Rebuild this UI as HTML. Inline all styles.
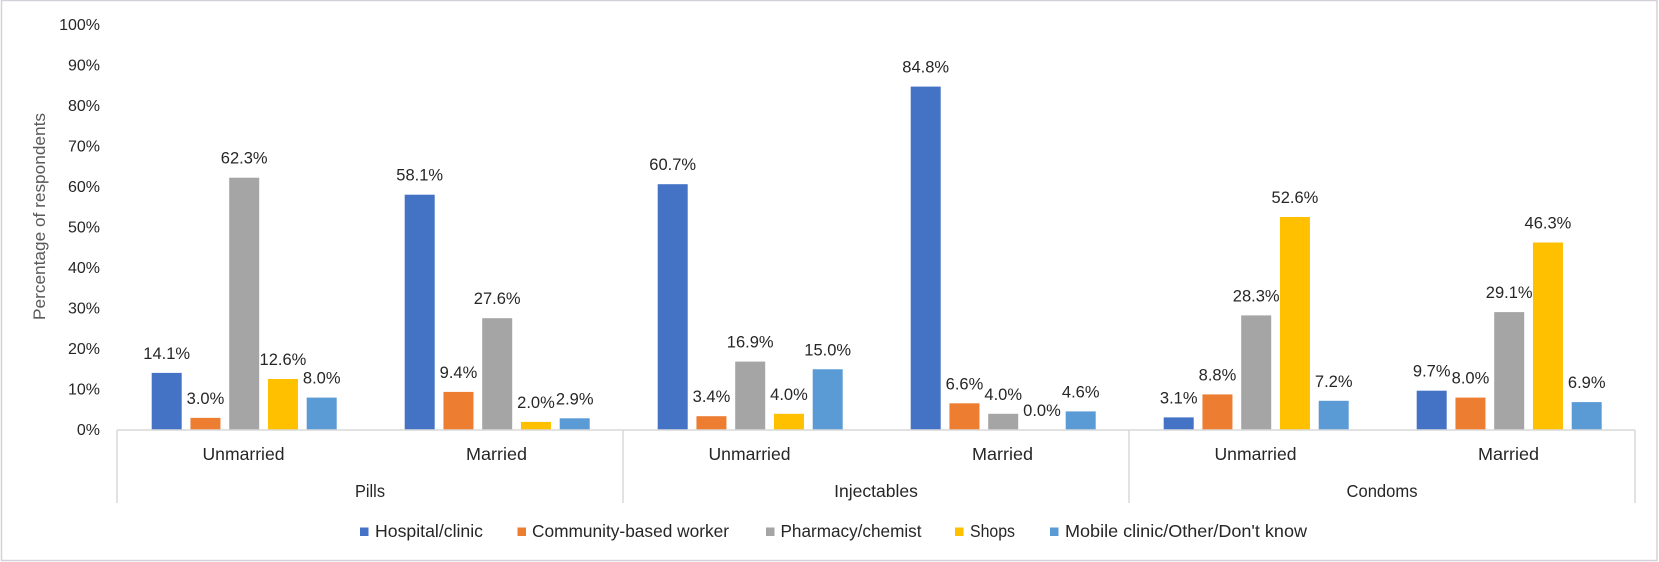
<!DOCTYPE html>
<html>
<head>
<meta charset="utf-8">
<style>
html,body{margin:0;padding:0;background:#fff;}
svg{display:block;}
text{font-family:"Liberation Sans",Arial,sans-serif;}
</style>
</head>
<body>
<svg width="1659" height="562" viewBox="0 0 1659 562" xmlns="http://www.w3.org/2000/svg">
<rect x="0" y="0" width="1659" height="562" fill="#ffffff"/>
<!-- outer border -->
<rect x="1.5" y="0.5" width="1655.5" height="560" fill="none" stroke="#d6d0da" stroke-width="1.5"/>

<!-- y-axis title -->
<text transform="translate(45,216.5) rotate(-90)" text-anchor="middle" font-size="17" fill="#595959" textLength="207" lengthAdjust="spacingAndGlyphs">Percentage of respondents</text>

<!-- tick labels -->
<g font-size="16" fill="#262626" text-anchor="end">
<text x="100" y="435">0%</text>
<text x="100" y="394.5">10%</text>
<text x="100" y="354">20%</text>
<text x="100" y="313.5">30%</text>
<text x="100" y="273">40%</text>
<text x="100" y="232.5">50%</text>
<text x="100" y="192">60%</text>
<text x="100" y="151.5">70%</text>
<text x="100" y="111">80%</text>
<text x="100" y="70.5">90%</text>
<text x="100" y="30">100%</text>
</g>

<!-- bars -->
<g>
<!-- Pills Unmarried -->
<rect x="151.7" y="372.9" width="30" height="57.1" fill="#4472C4"/>
<rect x="190.45" y="417.85" width="30" height="12.15" fill="#ED7D31"/>
<rect x="229.2" y="177.7" width="30" height="252.3" fill="#A5A5A5"/>
<rect x="267.95" y="379.0" width="30" height="51.0" fill="#FFC000"/>
<rect x="306.7" y="397.6" width="30" height="32.4" fill="#5B9BD5"/>
<!-- Pills Married -->
<rect x="404.7" y="194.7" width="30" height="235.3" fill="#4472C4"/>
<rect x="443.45" y="391.9" width="30" height="38.1" fill="#ED7D31"/>
<rect x="482.2" y="318.2" width="30" height="111.8" fill="#A5A5A5"/>
<rect x="520.95" y="421.9" width="30" height="8.1" fill="#FFC000"/>
<rect x="559.7" y="418.3" width="30" height="11.7" fill="#5B9BD5"/>
<!-- Injectables Unmarried -->
<rect x="657.7" y="184.2" width="30" height="245.8" fill="#4472C4"/>
<rect x="696.45" y="416.2" width="30" height="13.8" fill="#ED7D31"/>
<rect x="735.2" y="361.6" width="30" height="68.4" fill="#A5A5A5"/>
<rect x="773.95" y="413.8" width="30" height="16.2" fill="#FFC000"/>
<rect x="812.7" y="369.25" width="30" height="60.75" fill="#5B9BD5"/>
<!-- Injectables Married -->
<rect x="910.7" y="86.6" width="30" height="343.4" fill="#4472C4"/>
<rect x="949.45" y="403.3" width="30" height="26.7" fill="#ED7D31"/>
<rect x="988.2" y="413.8" width="30" height="16.2" fill="#A5A5A5"/>
<rect x="1065.7" y="411.4" width="30" height="18.6" fill="#5B9BD5"/>
<!-- Condoms Unmarried -->
<rect x="1163.7" y="417.4" width="30" height="12.6" fill="#4472C4"/>
<rect x="1202.45" y="394.4" width="30" height="35.6" fill="#ED7D31"/>
<rect x="1241.2" y="315.4" width="30" height="114.6" fill="#A5A5A5"/>
<rect x="1279.95" y="217.0" width="30" height="213.0" fill="#FFC000"/>
<rect x="1318.7" y="400.8" width="30" height="29.2" fill="#5B9BD5"/>
<!-- Condoms Married -->
<rect x="1416.7" y="390.7" width="30" height="39.3" fill="#4472C4"/>
<rect x="1455.45" y="397.6" width="30" height="32.4" fill="#ED7D31"/>
<rect x="1494.2" y="312.1" width="30" height="117.9" fill="#A5A5A5"/>
<rect x="1532.95" y="242.5" width="30" height="187.5" fill="#FFC000"/>
<rect x="1571.7" y="402.1" width="30" height="27.9" fill="#5B9BD5"/>
</g>

<!-- axis and dividers -->
<g stroke="#d9d9d9" stroke-width="1.5" fill="none">
<line x1="117" y1="430" x2="1635" y2="430"/>
<line x1="117" y1="430" x2="117" y2="503"/>
<line x1="623" y1="430" x2="623" y2="503"/>
<line x1="1129" y1="430" x2="1129" y2="503"/>
<line x1="1635" y1="430" x2="1635" y2="503"/>
</g>

<!-- data labels -->
<g font-size="16.5" fill="#262626" text-anchor="middle">
<text x="166.7" y="358.9">14.1%</text>
<text x="205.45" y="403.85">3.0%</text>
<text x="244.2" y="163.7">62.3%</text>
<text x="282.95" y="365.0">12.6%</text>
<text x="321.7" y="383.6">8.0%</text>

<text x="419.7" y="180.7">58.1%</text>
<text x="458.45" y="377.9">9.4%</text>
<text x="497.2" y="304.2">27.6%</text>
<text x="535.95" y="407.9">2.0%</text>
<text x="574.7" y="404.3">2.9%</text>

<text x="672.7" y="170.2">60.7%</text>
<text x="711.45" y="402.2">3.4%</text>
<text x="750.2" y="347.6">16.9%</text>
<text x="788.95" y="399.8">4.0%</text>
<text x="827.7" y="355.25">15.0%</text>

<text x="925.7" y="72.6">84.8%</text>
<text x="964.45" y="389.3">6.6%</text>
<text x="1003.2" y="399.8">4.0%</text>
<text x="1041.95" y="416">0.0%</text>
<text x="1080.7" y="397.4">4.6%</text>

<text x="1178.7" y="403.4">3.1%</text>
<text x="1217.45" y="380.4">8.8%</text>
<text x="1256.2" y="301.4">28.3%</text>
<text x="1294.95" y="203.0">52.6%</text>
<text x="1333.7" y="386.8">7.2%</text>

<text x="1431.7" y="376.7">9.7%</text>
<text x="1470.45" y="383.6">8.0%</text>
<text x="1509.2" y="298.1">29.1%</text>
<text x="1547.95" y="228.5">46.3%</text>
<text x="1586.7" y="388.1">6.9%</text>
</g>

<!-- category labels -->
<g font-size="17.5" fill="#262626" text-anchor="middle">
<text x="243.5" y="460" textLength="82" lengthAdjust="spacingAndGlyphs">Unmarried</text>
<text x="496.5" y="460" textLength="61" lengthAdjust="spacingAndGlyphs">Married</text>
<text x="749.5" y="460" textLength="82" lengthAdjust="spacingAndGlyphs">Unmarried</text>
<text x="1002.5" y="460" textLength="61" lengthAdjust="spacingAndGlyphs">Married</text>
<text x="1255.5" y="460" textLength="82" lengthAdjust="spacingAndGlyphs">Unmarried</text>
<text x="1508.5" y="460" textLength="61" lengthAdjust="spacingAndGlyphs">Married</text>

<text x="370" y="497" textLength="30" lengthAdjust="spacingAndGlyphs">Pills</text>
<text x="876" y="497">Injectables</text>
<text x="1382" y="497" textLength="71" lengthAdjust="spacingAndGlyphs">Condoms</text>
</g>

<!-- legend -->
<g>
<rect x="360" y="527.5" width="8.5" height="8.5" fill="#4472C4"/>
<rect x="517.5" y="527.5" width="8.5" height="8.5" fill="#ED7D31"/>
<rect x="766" y="527.5" width="8.5" height="8.5" fill="#A5A5A5"/>
<rect x="955" y="527.5" width="8.5" height="8.5" fill="#FFC000"/>
<rect x="1050" y="527.5" width="8.5" height="8.5" fill="#5B9BD5"/>
</g>
<g font-size="17.5" fill="#262626">
<text x="375" y="537" textLength="108" lengthAdjust="spacingAndGlyphs">Hospital/clinic</text>
<text x="532" y="537" textLength="197" lengthAdjust="spacingAndGlyphs">Community-based worker</text>
<text x="780.5" y="537" textLength="141" lengthAdjust="spacingAndGlyphs">Pharmacy/chemist</text>
<text x="970" y="537" textLength="45" lengthAdjust="spacingAndGlyphs">Shops</text>
<text x="1065" y="537" textLength="242" lengthAdjust="spacingAndGlyphs">Mobile clinic/Other/Don't know</text>
</g>
</svg>
</body>
</html>
